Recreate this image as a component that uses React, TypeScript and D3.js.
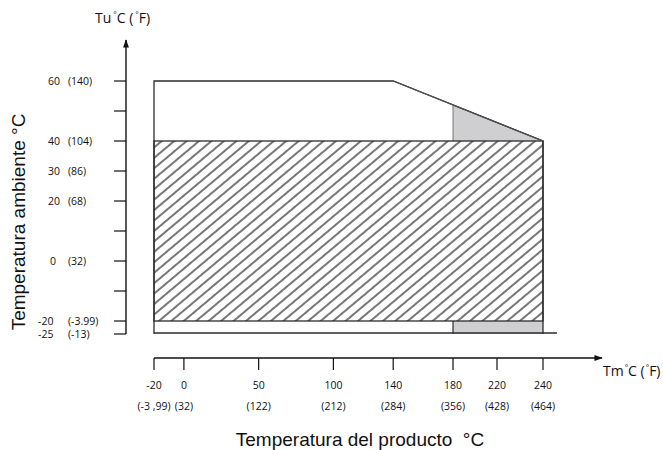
import React from 'react';
import * as d3 from 'd3';

// product temperature ticks (°C / °F)
const tmTicks = [-20, 0, 50, 100, 140, 180, 220, 240];
const tmTicksF = ['(-3 ,99)', '(32)', '(122)', '(212)', '(284)', '(356)', '(428)', '(464)'];

// ambient temperature ticks (°C / °F)
const tuTicks = [60, 50, 40, 30, 20, 10, 0, -10, -20, -25];
const tuLabelsC = ['60', '', '40', '30', '20', '', '0', '', '-20', '-25'];
const tuLabelsF = ['(140)', '', '(104)', '(86)', '(68)', '', '(32)', '', '(-3.99)', '(-13)'];

// operating envelope: upper limit line (Tm, Tu)
const upperLimit: [number, number][] = [[-20, 60], [140, 60], [240, 40]];
// hatched zone (Tm range, Tu range)
const hatchTm = [-20, 240];
const hatchTu = [-20, 40];
// grey zones start at this Tm
const greyFromTm = 180;
const floorTu = -25;

const W = 663;
const H = 450;

const App: React.FC = () => {
    // the drawing is schematic, the 220 tick sits off the linear spacing
    const x = d3.scaleLinear().domain([-20, 180, 220, 240]).range([154, 453, 497, 543]);
    const y = d3.scaleLinear().domain([-25, -20, 60]).range([334, 321, 81]);

    const limitAt = (tm: number) => {
        const seg = d3.scaleLinear()
            .domain(upperLimit.map((d) => d[0]))
            .range(upperLimit.map((d) => d[1]));
        return seg(tm);
    };

    const line = d3.line<[number, number]>().x((d) => x(d[0])).y((d) => y(d[1]));

    const outline: [number, number][] = [[hatchTm[0], floorTu], ...upperLimit, [hatchTm[1], floorTu]];
    const triangle: [number, number][] = [
        [greyFromTm, hatchTu[1]],
        [greyFromTm, limitAt(greyFromTm)],
        [hatchTm[1], hatchTu[1]],
    ];

    const axisY = 358;
    const axisX = 126;
    const dark = '#2b2b2b';
    const grey = '#cfcfd1';
    const tickFont = "'Open Sans', 'DejaVu Sans', sans-serif";
    const titleFont = "'Liberation Sans', Arial, sans-serif";

    return (
        <div style={{ position: 'absolute', left: 0, top: 0, background: '#fff' }}>
            <svg width={W} height={H} viewBox={`0 0 ${W} ${H}`} style={{ display: 'block' }}>
                <defs>
                    <pattern id="hatch" width="8" height="8" patternUnits="userSpaceOnUse"
                        patternTransform="rotate(-40)">
                        <line x1="0" y1="4" x2="8" y2="4" stroke="#111" strokeWidth="1.15" />
                    </pattern>
                    <marker id="arrow" viewBox="0 0 10 10" refX="9" refY="5" markerWidth="8" markerHeight="6"
                        orient="auto">
                        <path d="M0,1.5 L10,5 L0,8.5 Z" fill="#111" />
                    </marker>
                </defs>
                <rect width={W} height={H} fill="#fff" />

                {/* grey zones */}
                <path d={line(triangle) ?? ''} fill={grey} stroke="#777" strokeWidth={1} />
                <rect x={x(greyFromTm)} y={y(hatchTu[0])} width={x(hatchTm[1]) - x(greyFromTm)}
                    height={y(floorTu) - y(hatchTu[0])} fill={grey} />
                <line x1={x(greyFromTm)} x2={x(greyFromTm)} y1={y(hatchTu[0])} y2={y(floorTu)}
                    stroke={dark} strokeWidth={1.2} />

                {/* hatched zone */}
                <rect x={x(hatchTm[0])} y={y(hatchTu[1])} width={x(hatchTm[1]) - x(hatchTm[0])}
                    height={y(hatchTu[0]) - y(hatchTu[1])} fill="url(#hatch)" stroke={dark} strokeWidth={1.3} />

                {/* envelope outline */}
                <path d={line(outline) ?? ''} fill="none" stroke={dark} strokeWidth={1.3} />
                <path d={line(upperLimit.slice(1) as [number, number][]) ?? ''} fill="none" stroke="#555"
                    strokeWidth={1.1} />
                <line x1={x(hatchTm[0])} x2={x(hatchTm[1]) + 14} y1={y(floorTu) - 1} y2={y(floorTu) - 1}
                    stroke={dark} strokeWidth={1.3} />

                {/* y axis */}
                <line x1={axisX} x2={axisX} y1={y(floorTu)} y2={40} stroke="#111" strokeWidth={1.4}
                    markerEnd="url(#arrow)" />
                {tuTicks.map((t, i) => (
                    <g key={t}>
                        <line x1={axisX - 12} x2={axisX} y1={y(t)} y2={y(t)} stroke="#111" strokeWidth={1.2} />
                        <text x={t < 0 ? 38 : t === 0 ? 50 : 48} y={y(t) + 4} fontSize={10.5}
                            fontFamily={tickFont} fill="#111">{tuLabelsC[i]}</text>
                        <text x={68} y={y(t) + 4} fontSize={10.5} fontFamily={tickFont}
                            fill="#111">{tuLabelsF[i]}</text>
                    </g>
                ))}

                {/* x axis */}
                <line x1={x(-20)} x2={602} y1={axisY} y2={axisY} stroke="#111" strokeWidth={1.4}
                    markerEnd="url(#arrow)" />
                {tmTicks.map((t, i) => (
                    <g key={t}>
                        <line x1={x(t)} x2={x(t)} y1={axisY} y2={axisY + 12} stroke="#111" strokeWidth={1.2} />
                        <text x={x(t)} y={389} textAnchor="middle" fontSize={10.5} fontFamily={tickFont}
                            fill="#111">{t}</text>
                        <text x={x(t)} y={410} textAnchor="middle" fontSize={10.5} fontFamily={tickFont}
                            fill="#111">{tmTicksF[i]}</text>
                    </g>
                ))}

                {/* axis names */}
                <text x={95} y={23} fontSize={14} fontFamily={tickFont} fill="#111">
                    Tu<tspan fontSize={8} dx={2} dy={-6}>°</tspan>
                    <tspan dy={6}>C (</tspan>
                    <tspan fontSize={8} dx={2} dy={-6}>°</tspan>
                    <tspan dy={6}>F)</tspan>
                </text>
                <text x={603} y={376} fontSize={14} fontFamily={tickFont} fill="#111">
                    Tm<tspan fontSize={8} dx={1} dy={-6}>°</tspan>
                    <tspan dy={6}>C (</tspan>
                    <tspan fontSize={8} dx={1} dy={-6}>°</tspan>
                    <tspan dy={6}>F)</tspan>
                </text>
                <text x={360} y={446} textAnchor="middle" fontSize={19} fontFamily={titleFont} fill="#111"
                    style={{ whiteSpace: 'pre' }}>
                    {'Temperatura del producto  °C'}
                </text>
                <text transform="translate(25,222) rotate(-90)" textAnchor="middle" fontSize={19}
                    fontFamily={titleFont} fill="#111">
                    Temperatura ambiente °C
                </text>
            </svg>
        </div>
    );
};

export default App;
